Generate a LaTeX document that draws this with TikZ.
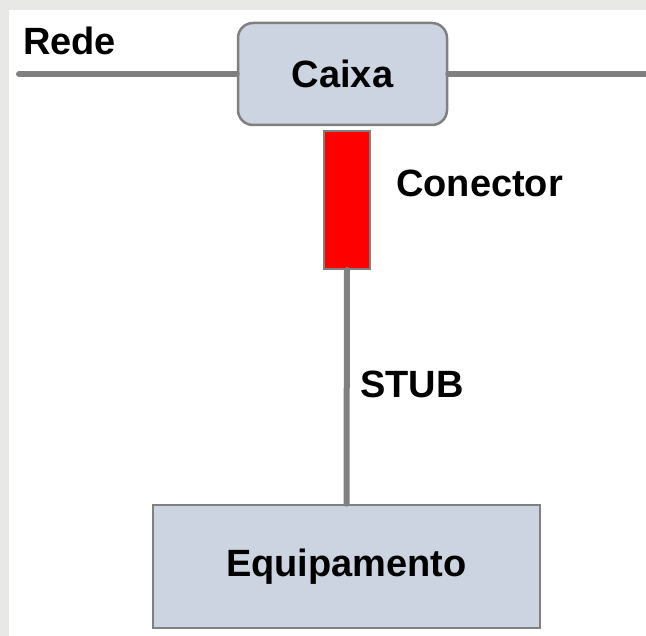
\documentclass[tikz,border=0pt]{standalone}
\usepackage{fontspec}
\setmainfont{Liberation Sans}
\usepackage{tikz}

\definecolor{boxfill}{RGB}{205,212,225}
\definecolor{wire}{RGB}{128,128,128}
\definecolor{paper}{RGB}{232,232,230}

\begin{document}
\begin{tikzpicture}[x=1pt, y=-1pt,
    every node/.style={font=\fontsize{38}{45}\selectfont\bfseries},
    box/.style={draw=wire, line width=2.5pt, fill=boxfill},
    cable/.style={draw=wire, line width=6pt, line cap=round},
    tag/.style={anchor=base west, inner sep=0pt}]
            % background
            \fill[paper] (0,0) rectangle (646,636);
            \fill[white] (9,10) rectangle (646,636);
            \useasboundingbox (0,0) rectangle (646,636);
            % boxes
            \node[box, rounded corners=15pt, minimum width=209pt, minimum height=102pt] (caixa) at (342.5,74) {Caixa};
            \node[box, minimum width=387pt, minimum height=123pt] (equip) at (346.5,566.5) {Equipamento};
            \node[draw=wire, line width=2pt, fill=red, minimum width=46pt, minimum height=138pt] (conector) at (347,200) {};
            % labels
            \node[tag] (rede) at (23,55) {Rede};
            \node[tag] (conlabel) at (396,197) {Conector};
            \node[tag] (stub) at (360,398) {STUB};
            % cables
            \coordinate (netW) at (19,74);
            \coordinate (netE) at (650,74);
            \draw[cable] (netW) -- (caixa.west);
            \draw[cable] (caixa.east) -- (netE);
            \draw[cable] (conector.south) -- (equip.north);
        \end{tikzpicture}
\end{document}
